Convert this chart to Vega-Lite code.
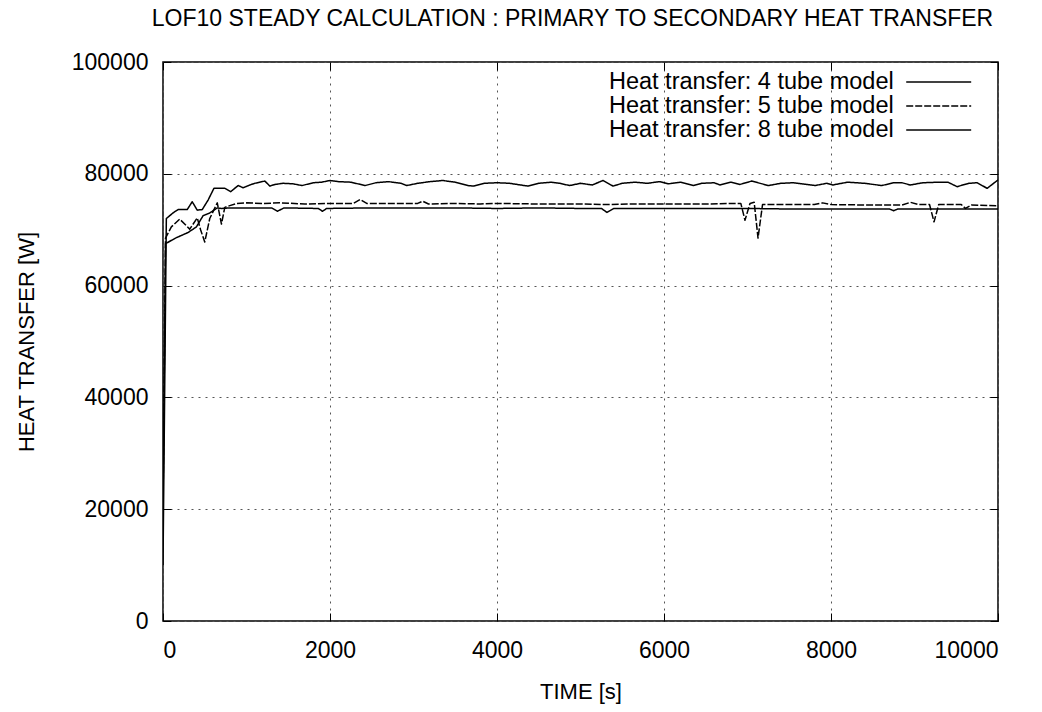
{
  "$schema": "https://vega.github.io/schema/vega-lite/v6.json",
  "width": 835,
  "height": 559,
  "autosize": "none",
  "padding": {"left": 163, "top": 62, "right": 44, "bottom": 91},
  "background": "white",
  "config": {
    "font": "Liberation Sans",
    "view": {"stroke": "black", "strokeWidth": 1.5},
    "axis": {"labelFont": "Liberation Sans", "titleFont": "Liberation Sans", "labelFontSize": 23, "titleFontSize": 22, "titleFontWeight": "normal", "labelColor": "black", "titleColor": "black", "domain": false, "tickColor": "black", "tickSize": -8, "tickWidth": 1, "gridColor": "#555", "gridDash": [2, 5], "gridWidth": 1}
  },
  "title": {"text": "LOF10 STEADY CALCULATION : PRIMARY TO SECONDARY HEAT TRANSFER", "fontSize": 23, "fontWeight": "normal", "font": "Liberation Sans", "color": "black", "offset": 20, "anchor": "middle", "dx": -8},
  "data": {"values": [
    {"series": "Heat transfer: 8 tube model", "t": 0, "q": 10000},
    {"series": "Heat transfer: 8 tube model", "t": 40, "q": 72000},
    {"series": "Heat transfer: 8 tube model", "t": 120, "q": 73000},
    {"series": "Heat transfer: 8 tube model", "t": 180, "q": 73600},
    {"series": "Heat transfer: 8 tube model", "t": 290, "q": 73600},
    {"series": "Heat transfer: 8 tube model", "t": 350, "q": 75000},
    {"series": "Heat transfer: 8 tube model", "t": 410, "q": 73500},
    {"series": "Heat transfer: 8 tube model", "t": 470, "q": 73600},
    {"series": "Heat transfer: 8 tube model", "t": 540, "q": 75300},
    {"series": "Heat transfer: 8 tube model", "t": 610, "q": 77400},
    {"series": "Heat transfer: 8 tube model", "t": 740, "q": 77400},
    {"series": "Heat transfer: 8 tube model", "t": 810, "q": 76800},
    {"series": "Heat transfer: 8 tube model", "t": 900, "q": 77900},
    {"series": "Heat transfer: 8 tube model", "t": 960, "q": 77500},
    {"series": "Heat transfer: 8 tube model", "t": 1040, "q": 78000},
    {"series": "Heat transfer: 8 tube model", "t": 1100, "q": 78300},
    {"series": "Heat transfer: 8 tube model", "t": 1220, "q": 78700},
    {"series": "Heat transfer: 8 tube model", "t": 1280, "q": 77800},
    {"series": "Heat transfer: 8 tube model", "t": 1340, "q": 78100},
    {"series": "Heat transfer: 8 tube model", "t": 1440, "q": 78300},
    {"series": "Heat transfer: 8 tube model", "t": 1560, "q": 78200},
    {"series": "Heat transfer: 8 tube model", "t": 1665, "q": 77900},
    {"series": "Heat transfer: 8 tube model", "t": 1800, "q": 78400},
    {"series": "Heat transfer: 8 tube model", "t": 1900, "q": 78500},
    {"series": "Heat transfer: 8 tube model", "t": 2000, "q": 78800},
    {"series": "Heat transfer: 8 tube model", "t": 2100, "q": 78600},
    {"series": "Heat transfer: 8 tube model", "t": 2250, "q": 78500},
    {"series": "Heat transfer: 8 tube model", "t": 2420, "q": 77900},
    {"series": "Heat transfer: 8 tube model", "t": 2550, "q": 78400},
    {"series": "Heat transfer: 8 tube model", "t": 2700, "q": 78600},
    {"series": "Heat transfer: 8 tube model", "t": 2850, "q": 78300},
    {"series": "Heat transfer: 8 tube model", "t": 2920, "q": 77900},
    {"series": "Heat transfer: 8 tube model", "t": 3050, "q": 78300},
    {"series": "Heat transfer: 8 tube model", "t": 3200, "q": 78600},
    {"series": "Heat transfer: 8 tube model", "t": 3350, "q": 78800},
    {"series": "Heat transfer: 8 tube model", "t": 3500, "q": 78500},
    {"series": "Heat transfer: 8 tube model", "t": 3650, "q": 77900},
    {"series": "Heat transfer: 8 tube model", "t": 3720, "q": 77800},
    {"series": "Heat transfer: 8 tube model", "t": 3850, "q": 78300},
    {"series": "Heat transfer: 8 tube model", "t": 4000, "q": 78400},
    {"series": "Heat transfer: 8 tube model", "t": 4150, "q": 78300},
    {"series": "Heat transfer: 8 tube model", "t": 4370, "q": 77800},
    {"series": "Heat transfer: 8 tube model", "t": 4500, "q": 78300},
    {"series": "Heat transfer: 8 tube model", "t": 4650, "q": 78500},
    {"series": "Heat transfer: 8 tube model", "t": 4750, "q": 78300},
    {"series": "Heat transfer: 8 tube model", "t": 4870, "q": 77900},
    {"series": "Heat transfer: 8 tube model", "t": 5000, "q": 78300},
    {"series": "Heat transfer: 8 tube model", "t": 5140, "q": 78000},
    {"series": "Heat transfer: 8 tube model", "t": 5270, "q": 78800},
    {"series": "Heat transfer: 8 tube model", "t": 5390, "q": 77800},
    {"series": "Heat transfer: 8 tube model", "t": 5500, "q": 78300},
    {"series": "Heat transfer: 8 tube model", "t": 5650, "q": 78500},
    {"series": "Heat transfer: 8 tube model", "t": 5800, "q": 78300},
    {"series": "Heat transfer: 8 tube model", "t": 5950, "q": 78600},
    {"series": "Heat transfer: 8 tube model", "t": 6050, "q": 78200},
    {"series": "Heat transfer: 8 tube model", "t": 6200, "q": 78500},
    {"series": "Heat transfer: 8 tube model", "t": 6350, "q": 77900},
    {"series": "Heat transfer: 8 tube model", "t": 6450, "q": 78300},
    {"series": "Heat transfer: 8 tube model", "t": 6600, "q": 78400},
    {"series": "Heat transfer: 8 tube model", "t": 6670, "q": 78000},
    {"series": "Heat transfer: 8 tube model", "t": 6800, "q": 78500},
    {"series": "Heat transfer: 8 tube model", "t": 6910, "q": 78100},
    {"series": "Heat transfer: 8 tube model", "t": 7050, "q": 78700},
    {"series": "Heat transfer: 8 tube model", "t": 7250, "q": 77900},
    {"series": "Heat transfer: 8 tube model", "t": 7400, "q": 78300},
    {"series": "Heat transfer: 8 tube model", "t": 7550, "q": 78400},
    {"series": "Heat transfer: 8 tube model", "t": 7650, "q": 78200},
    {"series": "Heat transfer: 8 tube model", "t": 7810, "q": 77900},
    {"series": "Heat transfer: 8 tube model", "t": 7950, "q": 78300},
    {"series": "Heat transfer: 8 tube model", "t": 8020, "q": 78000},
    {"series": "Heat transfer: 8 tube model", "t": 8200, "q": 78500},
    {"series": "Heat transfer: 8 tube model", "t": 8400, "q": 78300},
    {"series": "Heat transfer: 8 tube model", "t": 8610, "q": 77900},
    {"series": "Heat transfer: 8 tube model", "t": 8750, "q": 78400},
    {"series": "Heat transfer: 8 tube model", "t": 8850, "q": 78400},
    {"series": "Heat transfer: 8 tube model", "t": 8950, "q": 78000},
    {"series": "Heat transfer: 8 tube model", "t": 9100, "q": 78400},
    {"series": "Heat transfer: 8 tube model", "t": 9300, "q": 78500},
    {"series": "Heat transfer: 8 tube model", "t": 9400, "q": 78500},
    {"series": "Heat transfer: 8 tube model", "t": 9510, "q": 77700},
    {"series": "Heat transfer: 8 tube model", "t": 9650, "q": 78300},
    {"series": "Heat transfer: 8 tube model", "t": 9750, "q": 78400},
    {"series": "Heat transfer: 8 tube model", "t": 9870, "q": 77400},
    {"series": "Heat transfer: 8 tube model", "t": 10000, "q": 78900},

    {"series": "Heat transfer: 5 tube model", "t": 0, "q": 20000},
    {"series": "Heat transfer: 5 tube model", "t": 30, "q": 68500},
    {"series": "Heat transfer: 5 tube model", "t": 100, "q": 70500},
    {"series": "Heat transfer: 5 tube model", "t": 200, "q": 71900},
    {"series": "Heat transfer: 5 tube model", "t": 320, "q": 70100},
    {"series": "Heat transfer: 5 tube model", "t": 410, "q": 72100},
    {"series": "Heat transfer: 5 tube model", "t": 450, "q": 70000},
    {"series": "Heat transfer: 5 tube model", "t": 500, "q": 67800},
    {"series": "Heat transfer: 5 tube model", "t": 560, "q": 72000},
    {"series": "Heat transfer: 5 tube model", "t": 650, "q": 74800},
    {"series": "Heat transfer: 5 tube model", "t": 700, "q": 71000},
    {"series": "Heat transfer: 5 tube model", "t": 740, "q": 74000},
    {"series": "Heat transfer: 5 tube model", "t": 800, "q": 74300},
    {"series": "Heat transfer: 5 tube model", "t": 886, "q": 74700},
    {"series": "Heat transfer: 5 tube model", "t": 1000, "q": 74800},
    {"series": "Heat transfer: 5 tube model", "t": 1200, "q": 74700},
    {"series": "Heat transfer: 5 tube model", "t": 1400, "q": 74800},
    {"series": "Heat transfer: 5 tube model", "t": 1700, "q": 74600},
    {"series": "Heat transfer: 5 tube model", "t": 2000, "q": 74700},
    {"series": "Heat transfer: 5 tube model", "t": 2280, "q": 74700},
    {"series": "Heat transfer: 5 tube model", "t": 2360, "q": 75400},
    {"series": "Heat transfer: 5 tube model", "t": 2440, "q": 74700},
    {"series": "Heat transfer: 5 tube model", "t": 2800, "q": 74700},
    {"series": "Heat transfer: 5 tube model", "t": 3050, "q": 74700},
    {"series": "Heat transfer: 5 tube model", "t": 3110, "q": 75100},
    {"series": "Heat transfer: 5 tube model", "t": 3180, "q": 74600},
    {"series": "Heat transfer: 5 tube model", "t": 3500, "q": 74700},
    {"series": "Heat transfer: 5 tube model", "t": 3800, "q": 74600},
    {"series": "Heat transfer: 5 tube model", "t": 4000, "q": 74700},
    {"series": "Heat transfer: 5 tube model", "t": 4500, "q": 74600},
    {"series": "Heat transfer: 5 tube model", "t": 5000, "q": 74600},
    {"series": "Heat transfer: 5 tube model", "t": 5300, "q": 74500},
    {"series": "Heat transfer: 5 tube model", "t": 5600, "q": 74600},
    {"series": "Heat transfer: 5 tube model", "t": 6000, "q": 74600},
    {"series": "Heat transfer: 5 tube model", "t": 6500, "q": 74600},
    {"series": "Heat transfer: 5 tube model", "t": 6800, "q": 74700},
    {"series": "Heat transfer: 5 tube model", "t": 6920, "q": 74700},
    {"series": "Heat transfer: 5 tube model", "t": 6970, "q": 71700},
    {"series": "Heat transfer: 5 tube model", "t": 7030, "q": 74700},
    {"series": "Heat transfer: 5 tube model", "t": 7080, "q": 74900},
    {"series": "Heat transfer: 5 tube model", "t": 7126, "q": 68500},
    {"series": "Heat transfer: 5 tube model", "t": 7180, "q": 74500},
    {"series": "Heat transfer: 5 tube model", "t": 7500, "q": 74500},
    {"series": "Heat transfer: 5 tube model", "t": 7800, "q": 74500},
    {"series": "Heat transfer: 5 tube model", "t": 7900, "q": 74800},
    {"series": "Heat transfer: 5 tube model", "t": 8000, "q": 74500},
    {"series": "Heat transfer: 5 tube model", "t": 8500, "q": 74400},
    {"series": "Heat transfer: 5 tube model", "t": 8850, "q": 74400},
    {"series": "Heat transfer: 5 tube model", "t": 8950, "q": 74900},
    {"series": "Heat transfer: 5 tube model", "t": 9050, "q": 74500},
    {"series": "Heat transfer: 5 tube model", "t": 9180, "q": 74500},
    {"series": "Heat transfer: 5 tube model", "t": 9234, "q": 71400},
    {"series": "Heat transfer: 5 tube model", "t": 9290, "q": 74500},
    {"series": "Heat transfer: 5 tube model", "t": 9560, "q": 74500},
    {"series": "Heat transfer: 5 tube model", "t": 9610, "q": 73800},
    {"series": "Heat transfer: 5 tube model", "t": 9680, "q": 74400},
    {"series": "Heat transfer: 5 tube model", "t": 10000, "q": 74300},

    {"series": "Heat transfer: 4 tube model", "t": 0, "q": 20000},
    {"series": "Heat transfer: 4 tube model", "t": 30, "q": 67500},
    {"series": "Heat transfer: 4 tube model", "t": 150, "q": 68500},
    {"series": "Heat transfer: 4 tube model", "t": 300, "q": 69500},
    {"series": "Heat transfer: 4 tube model", "t": 400, "q": 70500},
    {"series": "Heat transfer: 4 tube model", "t": 480, "q": 72500},
    {"series": "Heat transfer: 4 tube model", "t": 560, "q": 73000},
    {"series": "Heat transfer: 4 tube model", "t": 650, "q": 73900},
    {"series": "Heat transfer: 4 tube model", "t": 700, "q": 73800},
    {"series": "Heat transfer: 4 tube model", "t": 800, "q": 73900},
    {"series": "Heat transfer: 4 tube model", "t": 1000, "q": 73900},
    {"series": "Heat transfer: 4 tube model", "t": 1300, "q": 73900},
    {"series": "Heat transfer: 4 tube model", "t": 1370, "q": 73300},
    {"series": "Heat transfer: 4 tube model", "t": 1450, "q": 73900},
    {"series": "Heat transfer: 4 tube model", "t": 1860, "q": 73800},
    {"series": "Heat transfer: 4 tube model", "t": 1910, "q": 73300},
    {"series": "Heat transfer: 4 tube model", "t": 1960, "q": 73800},
    {"series": "Heat transfer: 4 tube model", "t": 2500, "q": 73900},
    {"series": "Heat transfer: 4 tube model", "t": 3000, "q": 73900},
    {"series": "Heat transfer: 4 tube model", "t": 3500, "q": 73900},
    {"series": "Heat transfer: 4 tube model", "t": 4000, "q": 73800},
    {"series": "Heat transfer: 4 tube model", "t": 4500, "q": 73900},
    {"series": "Heat transfer: 4 tube model", "t": 5000, "q": 73800},
    {"series": "Heat transfer: 4 tube model", "t": 5250, "q": 73800},
    {"series": "Heat transfer: 4 tube model", "t": 5317, "q": 73100},
    {"series": "Heat transfer: 4 tube model", "t": 5400, "q": 73800},
    {"series": "Heat transfer: 4 tube model", "t": 6000, "q": 73800},
    {"series": "Heat transfer: 4 tube model", "t": 6500, "q": 73800},
    {"series": "Heat transfer: 4 tube model", "t": 7000, "q": 73800},
    {"series": "Heat transfer: 4 tube model", "t": 7500, "q": 73700},
    {"series": "Heat transfer: 4 tube model", "t": 8000, "q": 73700},
    {"series": "Heat transfer: 4 tube model", "t": 8500, "q": 73700},
    {"series": "Heat transfer: 4 tube model", "t": 8700, "q": 73700},
    {"series": "Heat transfer: 4 tube model", "t": 8750, "q": 73400},
    {"series": "Heat transfer: 4 tube model", "t": 8800, "q": 73700},
    {"series": "Heat transfer: 4 tube model", "t": 9500, "q": 73700},
    {"series": "Heat transfer: 4 tube model", "t": 10000, "q": 73700}
  ]},
  "layer": [
    {
      "mark": {"type": "line", "clip": true, "strokeJoin": "round"},
      "encoding": {
        "x": {"field": "t", "type": "quantitative", "scale": {"domain": [0, 10000], "nice": false}, "axis": {"title": "TIME [s]", "values": [0, 2000, 4000, 6000, 8000, 10000], "format": "d", "labelPadding": 26, "titlePadding": 19, "grid": true}},
        "y": {"field": "q", "type": "quantitative", "scale": {"domain": [0, 100000], "nice": false}, "axis": {"title": "HEAT TRANSFER [W]", "values": [0, 20000, 40000, 60000, 80000, 100000], "format": "d", "labelPadding": 23, "titlePadding": 33, "grid": true}},
        "color": {"field": "series", "type": "nominal", "scale": {"range": ["black", "black", "black"]}, "legend": {"title": null, "orient": "none", "legendX": 742, "legendY": 8, "padding": 0, "symbolType": "M-3,0H3", "symbolSize": 469, "symbolOffset": 21.7, "symbolStrokeWidth": 1.5, "symbolFillColor": "transparent", "labelAlign": "right", "labelOffset": -57, "labelFontSize": 23.5, "labelFont": "Liberation Sans", "labelColor": "black", "labelLimit": 0, "rowPadding": 0}},
        "strokeWidth": {"field": "series", "type": "nominal", "scale": {"range": [1.5, 1.5, 2.2]}, "legend": null},
        "strokeDash": {"field": "series", "type": "nominal", "scale": {"range": [[1, 0], [7, 2], [1, 0]]}, "legend": null}
      }
    },
    {
      "mark": {"type": "line", "opacity": 0},
      "encoding": {
        "x": {"field": "t", "type": "quantitative", "axis": {"orient": "top", "title": null, "labels": false, "grid": false, "values": [0, 2000, 4000, 6000, 8000, 10000]}},
        "y": {"field": "q", "type": "quantitative", "axis": {"orient": "right", "title": null, "labels": false, "grid": false, "values": [0, 20000, 40000, 60000, 80000, 100000]}},
        "detail": {"field": "series", "type": "nominal"}
      }
    }
  ],
  "resolve": {"axis": {"x": "independent", "y": "independent"}}
}
